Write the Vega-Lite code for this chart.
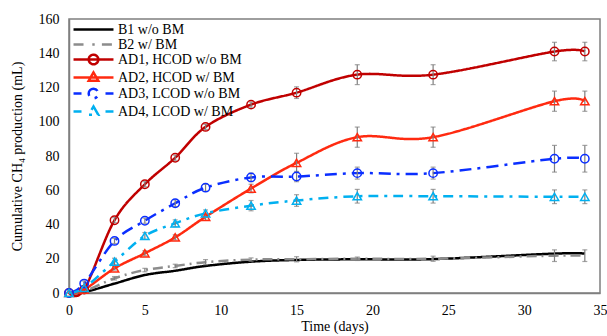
{
  "$schema": "https://vega.github.io/schema/vega-lite/v6.json",
  "autosize": "none",
  "width": 531,
  "height": 274,
  "padding": {"left": 69, "top": 19, "right": 7, "bottom": 43},
  "background": "white",
  "config": {
    "font": "Liberation Serif",
    "view": {"stroke": "#7f7f7f", "strokeWidth": 1.5},
    "axis": {"labelFont": "Liberation Serif", "titleFont": "Liberation Serif", "labelFontSize": 14, "titleFontSize": 14, "labelColor": "#000", "titleColor": "#000", "titleFontWeight": "normal", "grid": false, "ticks": false, "domainColor": "#7f7f7f", "domainWidth": 1.5}
  },
  "data": {"values": [
    {"s": "B1 w/o BM", "d": 0, "v": 0},
    {"s": "B1 w/o BM", "d": 1, "v": 0.5},
    {"s": "B1 w/o BM", "d": 3, "v": 5.5},
    {"s": "B1 w/o BM", "d": 5, "v": 10.5},
    {"s": "B1 w/o BM", "d": 7, "v": 13},
    {"s": "B1 w/o BM", "d": 9, "v": 15.8},
    {"s": "B1 w/o BM", "d": 12, "v": 18.3},
    {"s": "B1 w/o BM", "d": 15, "v": 19.3},
    {"s": "B1 w/o BM", "d": 19, "v": 19.7},
    {"s": "B1 w/o BM", "d": 24, "v": 19.8},
    {"s": "B1 w/o BM", "d": 32, "v": 23},
    {"s": "B1 w/o BM", "d": 34, "v": 23},
    {"s": "B2 w/ BM", "d": 0, "v": 0},
    {"s": "B2 w/ BM", "d": 1, "v": 1},
    {"s": "B2 w/ BM", "d": 3, "v": 8.6, "lo": 7.6, "hi": 9.6},
    {"s": "B2 w/ BM", "d": 5, "v": 13.4, "lo": 12.4, "hi": 14.4},
    {"s": "B2 w/ BM", "d": 7, "v": 15.8, "lo": 14.8, "hi": 16.8},
    {"s": "B2 w/ BM", "d": 9, "v": 18, "lo": 16.5, "hi": 19.5},
    {"s": "B2 w/ BM", "d": 12, "v": 19.5, "lo": 18.5, "hi": 20.5},
    {"s": "B2 w/ BM", "d": 15, "v": 19.7, "lo": 18.2, "hi": 21.2},
    {"s": "B2 w/ BM", "d": 19, "v": 20, "lo": 19, "hi": 21},
    {"s": "B2 w/ BM", "d": 24, "v": 20, "lo": 18.5, "hi": 21.5},
    {"s": "B2 w/ BM", "d": 32, "v": 21.8, "lo": 18.4, "hi": 25.2},
    {"s": "B2 w/ BM", "d": 34, "v": 21.8, "lo": 18.4, "hi": 25.2},
    {"s": "AD1, HCOD w/o BM", "d": 0, "v": 0},
    {"s": "AD1, HCOD w/o BM", "d": 1, "v": 2},
    {"s": "AD1, HCOD w/o BM", "d": 3, "v": 42.5, "lo": 41, "hi": 44},
    {"s": "AD1, HCOD w/o BM", "d": 5, "v": 63.5, "lo": 62, "hi": 65},
    {"s": "AD1, HCOD w/o BM", "d": 7, "v": 79, "lo": 77.5, "hi": 80.5},
    {"s": "AD1, HCOD w/o BM", "d": 9, "v": 97, "lo": 95.5, "hi": 98.5},
    {"s": "AD1, HCOD w/o BM", "d": 12, "v": 110, "lo": 108.5, "hi": 111.5},
    {"s": "AD1, HCOD w/o BM", "d": 15, "v": 117, "lo": 113.6, "hi": 120.4},
    {"s": "AD1, HCOD w/o BM", "d": 19, "v": 127.5, "lo": 121.7, "hi": 133.3},
    {"s": "AD1, HCOD w/o BM", "d": 24, "v": 127.5, "lo": 121.7, "hi": 133.3},
    {"s": "AD1, HCOD w/o BM", "d": 32, "v": 141, "lo": 135.6, "hi": 146.4},
    {"s": "AD1, HCOD w/o BM", "d": 34, "v": 141, "lo": 135.6, "hi": 146.4},
    {"s": "AD2, HCOD w/ BM", "d": 0, "v": 0},
    {"s": "AD2, HCOD w/ BM", "d": 1, "v": 2},
    {"s": "AD2, HCOD w/ BM", "d": 3, "v": 14.4, "lo": 13.4, "hi": 15.4},
    {"s": "AD2, HCOD w/ BM", "d": 5, "v": 23.2, "lo": 21.7, "hi": 24.7},
    {"s": "AD2, HCOD w/ BM", "d": 7, "v": 32.5, "lo": 31, "hi": 34},
    {"s": "AD2, HCOD w/ BM", "d": 9, "v": 44.5, "lo": 42.5, "hi": 46.5},
    {"s": "AD2, HCOD w/ BM", "d": 12, "v": 61, "lo": 58.5, "hi": 63.5},
    {"s": "AD2, HCOD w/ BM", "d": 15, "v": 76, "lo": 70.4, "hi": 81.6},
    {"s": "AD2, HCOD w/ BM", "d": 19, "v": 91, "lo": 85.1, "hi": 96.9},
    {"s": "AD2, HCOD w/ BM", "d": 24, "v": 91, "lo": 85.1, "hi": 96.9},
    {"s": "AD2, HCOD w/ BM", "d": 32, "v": 112, "lo": 106.1, "hi": 117.9},
    {"s": "AD2, HCOD w/ BM", "d": 34, "v": 112, "lo": 106.1, "hi": 117.9},
    {"s": "AD3, LCOD w/o BM", "d": 0, "v": 0},
    {"s": "AD3, LCOD w/o BM", "d": 1, "v": 5.5, "lo": 4, "hi": 7},
    {"s": "AD3, LCOD w/o BM", "d": 3, "v": 30.4, "lo": 28.9, "hi": 31.9},
    {"s": "AD3, LCOD w/o BM", "d": 5, "v": 42.2, "lo": 40.7, "hi": 43.7},
    {"s": "AD3, LCOD w/o BM", "d": 7, "v": 52.4, "lo": 50.4, "hi": 54.4},
    {"s": "AD3, LCOD w/o BM", "d": 9, "v": 61.5, "lo": 59.5, "hi": 63.5},
    {"s": "AD3, LCOD w/o BM", "d": 12, "v": 67.5, "lo": 65, "hi": 70},
    {"s": "AD3, LCOD w/o BM", "d": 15, "v": 68, "lo": 65, "hi": 71},
    {"s": "AD3, LCOD w/o BM", "d": 19, "v": 70, "lo": 66.5, "hi": 73.5},
    {"s": "AD3, LCOD w/o BM", "d": 24, "v": 70, "lo": 66.5, "hi": 73.5},
    {"s": "AD3, LCOD w/o BM", "d": 32, "v": 78.4, "lo": 70.6, "hi": 86.2},
    {"s": "AD3, LCOD w/o BM", "d": 34, "v": 78.4, "lo": 70.6, "hi": 86.2},
    {"s": "AD4, LCOD w/ BM", "d": 0, "v": 0},
    {"s": "AD4, LCOD w/ BM", "d": 1, "v": 3},
    {"s": "AD4, LCOD w/ BM", "d": 3, "v": 18.3, "lo": 16.3, "hi": 20.3},
    {"s": "AD4, LCOD w/ BM", "d": 5, "v": 33.3, "lo": 31.3, "hi": 35.3},
    {"s": "AD4, LCOD w/ BM", "d": 7, "v": 40.7, "lo": 38.7, "hi": 42.7},
    {"s": "AD4, LCOD w/ BM", "d": 9, "v": 46.5, "lo": 44.5, "hi": 48.5},
    {"s": "AD4, LCOD w/ BM", "d": 12, "v": 51, "lo": 48, "hi": 54},
    {"s": "AD4, LCOD w/ BM", "d": 15, "v": 54, "lo": 50.6, "hi": 57.4},
    {"s": "AD4, LCOD w/ BM", "d": 19, "v": 56.5, "lo": 52.5, "hi": 60.5},
    {"s": "AD4, LCOD w/ BM", "d": 24, "v": 56.5, "lo": 52.5, "hi": 60.5},
    {"s": "AD4, LCOD w/ BM", "d": 32, "v": 56.2, "lo": 52.2, "hi": 60.2},
    {"s": "AD4, LCOD w/ BM", "d": 34, "v": 56.2, "lo": 52.2, "hi": 60.2}
  ]},
  "encoding": {
    "x": {"field": "d", "type": "quantitative", "title": "Time (days)", "scale": {"domain": [0, 35], "nice": false}, "axis": {"values": [0, 5, 10, 15, 20, 25, 30, 35], "labelPadding": 10, "titlePadding": 2, "labelFlush": false}},
    "y": {"field": "v", "type": "quantitative", "title": "Cumulative CH₄ production (mL)", "scale": {"domain": [0, 160], "nice": false}, "axis": {"values": [0, 20, 40, 60, 80, 100, 120, 140, 160], "labelPadding": 10, "titlePadding": 14}}
  },
  "layer": [
    {
      "mark": {"type": "line", "interpolate": "cardinal", "strokeWidth": 2.5},
      "encoding": {
        "color": {"field": "s", "type": "nominal", "sort": null,
          "scale": {"domain": ["B1 w/o BM", "B2 w/ BM", "AD1, HCOD w/o BM", "AD2, HCOD w/ BM", "AD3, LCOD w/o BM", "AD4, LCOD w/ BM"], "range": ["#000000", "#8c8c8c", "#c00000", "#ff2a10", "#0a2eff", "#00b0f0"]},
          "legend": {"title": null, "orient": "top-left", "offset": 0, "padding": 3, "labelFont": "Liberation Serif", "labelFontSize": 14, "labelColor": "#000", "rowPadding": -3, "symbolSize": 144, "symbolOffset": 14, "labelOffset": 17, "symbolStrokeWidth": 2.5,
            "encode": {"symbols": {"update": {
              "fill": {"value": "transparent"},
              "strokeDash": {"value": [1, 0]},
              "shape": {"signal": "datum.value == 'B1 w/o BM' ? 'M-3.33,0H3.33' : datum.value == 'B2 w/ BM' ? 'M-3.33,0H-1.4M-0.2,0H0.2M1.4,0H3.33' : datum.value == 'AD1, HCOD w/o BM' ? 'M-3.33,0H3.33M-0.8,0A0.8,0.8 0 1,1 0.8,0A0.8,0.8 0 1,1 -0.8,0' : datum.value == 'AD2, HCOD w/ BM' ? 'M-3.33,0H3.33M0,-0.85L0.8,0.55L-0.8,0.55Z' : datum.value == 'AD3, LCOD w/o BM' ? 'M-3.33,0H-2M2,0H3.33M-0.8,0A0.8,0.8 0 1,1 0.8,0A0.8,0.8 0 1,1 -0.8,0' : 'M-3.33,0H-2M2,0H3.33M0,-0.85L0.8,0.55L-0.8,0.55Z'"}
            }}}
          }
        },
        "strokeDash": {"field": "s", "type": "nominal", "sort": null, "legend": null,
          "scale": {"domain": ["B1 w/o BM", "B2 w/ BM", "AD1, HCOD w/o BM", "AD2, HCOD w/ BM", "AD3, LCOD w/o BM", "AD4, LCOD w/ BM"], "range": [[1, 0], [10, 5, 2, 5], [1, 0], [1, 0], [12, 6, 3, 6], [10, 6, 3, 6]]}
        }
      }
    },
    {
      "transform": [{"filter": "isValid(datum.lo)"}],
      "mark": {"type": "errorbar", "ticks": true, "color": "#7f7f7f", "thickness": 1.2},
      "encoding": {
        "y": {"field": "lo", "type": "quantitative"},
        "y2": {"field": "hi"}
      }
    },
    {
      "transform": [{"filter": "datum.s != 'B1 w/o BM' && datum.s != 'B2 w/ BM'"}],
      "mark": {"type": "point", "filled": false, "strokeWidth": 1.5, "size": 70, "opacity": 1},
      "encoding": {
        "color": {"field": "s", "type": "nominal", "sort": null},
        "shape": {"field": "s", "type": "nominal", "legend": null,
          "scale": {"domain": ["AD1, HCOD w/o BM", "AD2, HCOD w/ BM", "AD3, LCOD w/o BM", "AD4, LCOD w/ BM"], "range": ["circle", "triangle-up", "circle", "triangle-up"]}
        }
      }
    }
  ]
}
